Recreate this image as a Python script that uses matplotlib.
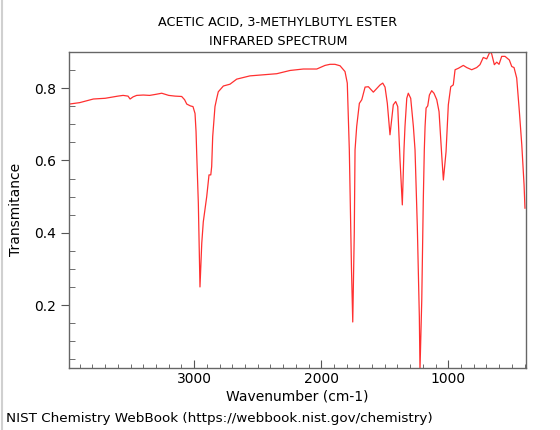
import matplotlib
matplotlib.use("Agg")
import matplotlib.pyplot as plt
from matplotlib.ticker import MultipleLocator
from matplotlib.lines import Line2D

# spectrum (wavenumber in cm-1, transmitance)
wavenumber = [
    3982, 3900, 3793, 3700, 3600, 3559, 3520, 3504, 3480, 3452,
    3400, 3350, 3300, 3255, 3200, 3150, 3098, 3075, 3058, 3030,
    3009, 2993, 2985, 2980, 2967, 2954, 2940, 2928, 2901, 2883,
    2869, 2862, 2854, 2836, 2822, 2810, 2770, 2718, 2665, 2561,
    2456, 2350, 2245, 2141, 2035, 1970, 1931, 1892, 1852, 1813,
    1795, 1779, 1762, 1752, 1740, 1734, 1721, 1700, 1681, 1655,
    1629, 1590, 1537, 1516, 1498, 1480, 1459, 1433, 1414, 1398,
    1380, 1362, 1349, 1341, 1327, 1315, 1296, 1275, 1262, 1244,
    1228, 1223, 1209, 1197, 1189, 1183, 1175, 1162, 1149, 1131,
    1113, 1091, 1073, 1052, 1039, 1018, 1000, 981, 961, 947,
    921, 882, 855, 816, 777, 751, 725, 698, 672, 659,
    638, 619, 601, 580, 554, 520, 501, 483, 462, 441,
    422, 404, 397,
]
transmitance = [
    0.756, 0.760, 0.770, 0.772, 0.778, 0.780, 0.778, 0.770, 0.776, 0.780,
    0.781, 0.780, 0.783, 0.786, 0.780, 0.778, 0.777, 0.768, 0.756, 0.751,
    0.749, 0.730, 0.680, 0.621, 0.482, 0.250, 0.371, 0.430, 0.500, 0.560,
    0.560, 0.583, 0.666, 0.749, 0.772, 0.790, 0.806, 0.811, 0.825, 0.834,
    0.837, 0.840, 0.849, 0.853, 0.853, 0.863, 0.866, 0.866, 0.862, 0.846,
    0.814, 0.629, 0.300, 0.153, 0.400, 0.629, 0.694, 0.758, 0.768, 0.803,
    0.804, 0.789, 0.809, 0.814, 0.803, 0.758, 0.671, 0.754, 0.763, 0.749,
    0.601, 0.477, 0.629, 0.694, 0.772, 0.786, 0.772, 0.694, 0.629, 0.417,
    0.167, 0.020, 0.214, 0.490, 0.629, 0.694, 0.745, 0.751, 0.781, 0.793,
    0.786, 0.768, 0.735, 0.615, 0.546, 0.624, 0.754, 0.804, 0.809, 0.851,
    0.855, 0.863, 0.857, 0.851, 0.857, 0.865, 0.885, 0.881, 0.901, 0.895,
    0.865, 0.872, 0.866, 0.888, 0.888, 0.878, 0.860, 0.857, 0.828, 0.735,
    0.643, 0.532, 0.468,
]

title = "ACETIC ACID, 3-METHYLBUTYL ESTER\nINFRARED SPECTRUM"
source = "NIST Chemistry WebBook (https://webbook.nist.gov/chemistry)"

plt.rcParams["font.family"] = "DejaVu Sans"

fig = plt.figure(figsize=(5.6, 4.3), dpi=100)
ax = fig.add_axes([0.1238, 0.1453, 0.815, 0.7337])

ax.plot(wavenumber, transmitance, color="#ff3030", linewidth=0.9)

ax.set_xlim(3982, 391)
ax.set_ylim(0.027, 0.90)

ax.xaxis.set_major_locator(MultipleLocator(1000))
ax.xaxis.set_minor_locator(MultipleLocator(100))
ax.yaxis.set_minor_locator(MultipleLocator(0.05))
ax.set_yticks([0.2, 0.4, 0.6, 0.8])
ax.set_yticklabels(["0.2", "0.4", "0.6", "0.8"])

ax.tick_params(axis="x", which="major", direction="in", length=6, labelsize=10, color="#555555")
ax.tick_params(axis="x", which="minor", direction="in", length=3, color="#555555")
ax.tick_params(axis="y", which="major", direction="out", length=6, labelsize=10, color="#555555")
ax.tick_params(axis="y", which="minor", direction="in", length=4, color="#555555")

for sp in ax.spines.values():
    sp.set_color("#666666")
    sp.set_linewidth(1.0)

ax.set_xlabel("Wavenumber (cm-1)", fontsize=10, labelpad=2)
ax.set_ylabel("Transmitance", fontsize=10, labelpad=8)

fig.text(0.496, 0.925, title, ha="center", va="center", fontsize=9.2,
         linespacing=1.6)
fig.text(0.011, 0.027, source, ha="left", va="center", fontsize=9.7)

# light border on the left of the screenshot
fig.add_artist(Line2D([0.003, 0.003], [0, 1], color="#d0d0d0", linewidth=1.5,
                      transform=fig.transFigure))

fig.savefig("out.png", dpi=100)
